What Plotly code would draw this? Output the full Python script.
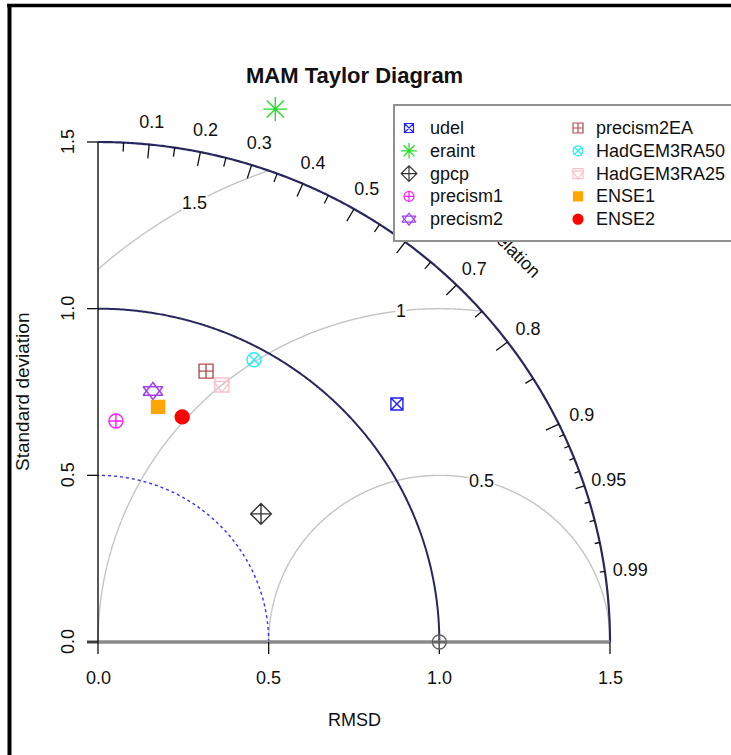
import numpy as np
import plotly.graph_objects as go

# ---------------- data ----------------
models = ["udel", "eraint", "gpcp", "precism1", "precism2",
          "precism2EA", "HadGEM3RA50", "HadGEM3RA25", "ENSE1", "ENSE2"]
model_sd = [1.130, 1.681, 0.613, 0.665, 0.770, 0.872, 0.962, 0.852, 0.727, 0.719]
model_cor = [0.775, 0.309, 0.779, 0.079, 0.209, 0.363, 0.475, 0.426, 0.242, 0.343]
ref_sd = 1.0
max_sd = 1.5
dotted_sd = 0.5
sd_ticks = [0.0, 0.5, 1.0, 1.5]
sd_tick_labels = ["0.0", "0.5", "1.0", "1.5"]
cor_label_values = [0.1, 0.2, 0.3, 0.4, 0.5, 0.6, 0.7, 0.8, 0.9, 0.95, 0.99]
cor_label_text = ["0.1", "0.2", "0.3", "0.4", "0.5", "0.6", "0.7", "0.8", "0.9", "0.95", "0.99"]
cor_big_ticks = [0.1, 0.2, 0.3, 0.4, 0.5, 0.6, 0.7, 0.8, 0.9]
cor_med_ticks = [0.05, 0.15, 0.25, 0.35, 0.45, 0.55, 0.65, 0.75, 0.85, 0.95]
cor_small_ticks = [0.91, 0.92, 0.93, 0.94, 0.96, 0.97, 0.98, 0.99]
rmsd_levels = [0.5, 1.0, 1.5]
rmsd_labels = ["0.5", "1", "1.5"]
rmsd_label_angle_deg = [75.7, 96.4, 118.6]
title_text = "MAM Taylor Diagram"
x_title = "RMSD"
y_title = "Standard deviation"
cor_title = "Correlation"

# ---------------- styles ----------------
marker_style = {
    "udel":        ("#2020ff", ["square-x-open"], 12, 9),
    "eraint":      ("#20e020", ["asterisk-open"], 20, 13),
    "gpcp":        ("#333333", ["diamond-cross-open"], 16, 12),
    "precism1":    ("#ff20ff", ["circle-cross-open"], 14, 10),
    "precism2":    ("#a040f0", ["triangle-up-open", "triangle-down-open"], 17, 12),
    "precism2EA":  ("#b05050", ["square-cross-open"], 14, 10),
    "HadGEM3RA50": ("#20f0f0", ["circle-x-open"], 14, 10),
    "HadGEM3RA25": ("#ffc0cb", ["square-open", "triangle-down-open"], 14, 10),
    "ENSE1":       ("#ffa500", ["square"], 13, 9),
    "ENSE2":       ("#ff0000", ["circle"], 14, 10),
}
FONT = "Liberation Sans, Arial, sans-serif"
NAVY = "#28285e"
GRAY_ARC = "#c4c4c4"
TXT = "#111111"

W, H = 731, 755
PX0, PX1 = 98, 610     # pixel x of sd 0 and 1.5
PY0, PY1 = 642, 142    # pixel y of sd 0 and 1.5
SX = (PX1 - PX0) / max_sd
SY = (PY0 - PY1) / max_sd
xr = [-PX0 / SX, (W - PX0) / SX]
yr = [-(H - PY0) / SY, PY0 / SY]


def px2d(px, py):
    return (px - PX0) / SX, (PY0 - py) / SY


def path_from(xs, ys):
    return "M " + " L ".join(f"{a:.5f},{b:.5f}" for a, b in zip(xs, ys))


shapes = []
# RMSD arcs around reference point
t = np.linspace(0, np.pi, 6001)
for r in rmsd_levels:
    xs = ref_sd + r * np.cos(t)
    ys = r * np.sin(t)
    m = (xs >= 0) & (xs ** 2 + ys ** 2 <= max_sd ** 2 + 1e-12)
    shapes.append(dict(type="path", path=path_from(xs[m], ys[m]), xref="x", yref="y",
                       line=dict(color=GRAY_ARC, width=1.4), layer="below"))

q = np.linspace(0, np.pi / 2, 400)
shapes.append(dict(type="path", path=path_from(dotted_sd * np.cos(q), dotted_sd * np.sin(q)),
                   xref="x", yref="y", line=dict(color="#3030ff", width=1.4, dash="dot"), layer="below"))
shapes.append(dict(type="path", path=path_from(ref_sd * np.cos(q), ref_sd * np.sin(q)),
                   xref="x", yref="y", line=dict(color=NAVY, width=2), layer="below"))
shapes.append(dict(type="path", path=path_from(max_sd * np.cos(q), max_sd * np.sin(q)),
                   xref="x", yref="y", line=dict(color=NAVY, width=2.2), layer="below"))

# correlation ticks
for vals, frac in ((cor_big_ticks, 0.972), (cor_med_ticks, 0.982), (cor_small_ticks, 0.99)):
    for c in vals:
        a = np.arccos(c)
        shapes.append(dict(type="line", xref="x", yref="y",
                           x0=max_sd * np.cos(a), y0=max_sd * np.sin(a),
                           x1=frac * max_sd * np.cos(a), y1=frac * max_sd * np.sin(a),
                           line=dict(color=TXT, width=1.3), layer="below"))

# axes
shapes.append(dict(type="line", xref="x", yref="y", x0=-11 / SX, y0=0, x1=max_sd, y1=0,
                   line=dict(color="#8a8a8a", width=3.5), layer="below"))
shapes.append(dict(type="line", xref="x", yref="y", x0=0, y0=0, x1=0, y1=max_sd,
                   line=dict(color=TXT, width=1.4), layer="below"))
for v in sd_ticks:
    shapes.append(dict(type="line", xref="x", yref="y", x0=0, y0=v, x1=-11 / SX, y1=v,
                       line=dict(color=TXT, width=1.3), layer="below"))
    shapes.append(dict(type="line", xref="x", yref="y", x0=v, y0=0, x1=v, y1=-12 / SY,
                       line=dict(color=TXT, width=1.3), layer="below"))

# correlation labels (as shape labels so the legend box can cover them)
eps = 0.005
for c, s in zip(cor_label_values, cor_label_text):
    a = np.arccos(c)
    cx, cy = 1.05 * max_sd * np.cos(a), 1.05 * max_sd * np.sin(a)
    shapes.append(dict(type="rect", xref="x", yref="y", x0=cx - eps, x1=cx + eps,
                       y0=cy - eps, y1=cy + eps, line=dict(width=0),
                       fillcolor="rgba(0,0,0,0)", layer="below",
                       label=dict(text=s, font=dict(family=FONT, size=18, color=TXT),
                                  textposition="middle center")))
cx, cy = 0.8 * max_sd, 0.8 * max_sd
shapes.append(dict(type="rect", xref="x", yref="y", x0=cx - eps, x1=cx + eps,
                   y0=cy - eps, y1=cy + eps, line=dict(width=0),
                   fillcolor="rgba(0,0,0,0)", layer="below",
                   label=dict(text=cor_title, textangle=45,
                              font=dict(family=FONT, size=18, color=TXT),
                              textposition="middle center")))

# legend box
lx0, ly0 = px2d(394, 105)
lx1, ly1 = px2d(745, 241)
shapes.append(dict(type="rect", xref="x", yref="y", x0=lx0, x1=lx1, y0=ly1, y1=ly0,
                   fillcolor="white", line=dict(color="#909090", width=2), layer="below"))

# figure frame
shapes.append(dict(type="line", xref="paper", yref="paper", x0=7 / W, x1=1.0,
                   y0=1 - 5.5 / H, y1=1 - 5.5 / H, line=dict(color="black", width=3.5), layer="above"))
shapes.append(dict(type="line", xref="paper", yref="paper", x0=9.5 / W, x1=9.5 / W,
                   y0=0, y1=1 - 4 / H, line=dict(color="black", width=4), layer="above"))

fig = go.Figure()

# reference point
fig.add_trace(go.Scatter(x=[ref_sd], y=[0], mode="markers", hoverinfo="skip",
                         marker=dict(symbol="circle-cross-open", size=14, color="#606060",
                                     line=dict(width=1.3, color="#606060"))))

# model points
for i, name in enumerate(models):
    col, syms, size, lsize = marker_style[name]
    a = np.arccos(model_cor[i])
    x = model_sd[i] * np.cos(a)
    y = model_sd[i] * np.sin(a)
    for s in syms:
        fig.add_trace(go.Scatter(x=[x], y=[y], mode="markers", name=name,
                                 marker=dict(symbol=s, size=size, color=col,
                                             line=dict(width=1.4, color=col))))

# legend symbols and texts
annotations = []
for i, name in enumerate(models):
    col, syms, size, lsize = marker_style[name]
    colidx, row = divmod(i, 5)
    mx, my = px2d([409, 578][colidx], 128 + row * 22.8)
    tx, _ = px2d([428, 594][colidx], 0)
    for s in syms:
        fig.add_trace(go.Scatter(x=[mx], y=[my], mode="markers", hoverinfo="skip",
                                 marker=dict(symbol=s, size=lsize, color=col,
                                             line=dict(width=1.2, color=col))))
    annotations.append(dict(x=tx, y=my, xref="x", yref="y", text=name, showarrow=False,
                            xanchor="left", yanchor="middle",
                            font=dict(family=FONT, size=18, color=TXT)))

# RMSD labels
for r, s, ang in zip(rmsd_levels, rmsd_labels, rmsd_label_angle_deg):
    a = np.deg2rad(ang)
    annotations.append(dict(x=ref_sd + r * np.cos(a), y=r * np.sin(a), xref="x", yref="y",
                            text=s, showarrow=False, bgcolor="white", borderpad=0,
                            font=dict(family=FONT, size=18, color=TXT)))

# axis tick labels
for v, s in zip(sd_ticks, sd_tick_labels):
    annotations.append(dict(x=v, y=0, xref="x", yref="y", text=s, showarrow=False,
                            yshift=-36, font=dict(family=FONT, size=18, color=TXT)))
    annotations.append(dict(x=0, y=v, xref="x", yref="y", text=s, showarrow=False,
                            xshift=-30, textangle=-90,
                            font=dict(family=FONT, size=18, color=TXT)))

# axis titles
annotations.append(dict(x=0.75, y=0, xref="x", yref="y", text=x_title, showarrow=False,
                        yshift=-78, font=dict(family=FONT, size=18, color=TXT)))
annotations.append(dict(x=0, y=0.75, xref="x", yref="y", text=y_title, showarrow=False,
                        xshift=-76, textangle=-90, font=dict(family=FONT, size=19, color=TXT)))
# title
annotations.append(dict(x=0.75, y=1.5, xref="x", yref="y", text="<b>" + title_text + "</b>",
                        showarrow=False, yshift=67,
                        font=dict(family=FONT, size=22, color=TXT)))

fig.update_layout(
    width=W, height=H, margin=dict(l=0, r=0, t=0, b=0),
    paper_bgcolor="white", plot_bgcolor="white", showlegend=False,
    xaxis=dict(range=xr, visible=False, fixedrange=True),
    yaxis=dict(range=yr, visible=False, fixedrange=True),
    shapes=shapes, annotations=annotations,
)
fig.write_html("out.html", config={"displayModeBar": False},
               post_script="document.body.style.margin='0';document.body.style.overflow='hidden';")
